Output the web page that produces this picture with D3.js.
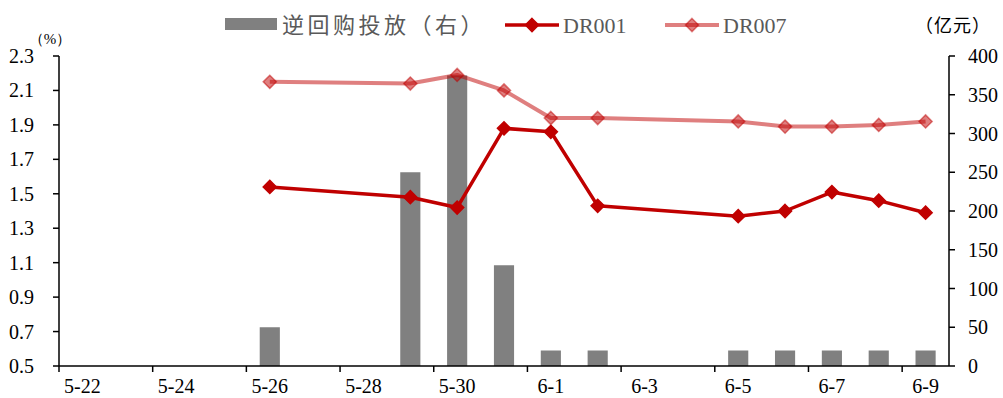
<!DOCTYPE html>
<html>
<head>
<meta charset="utf-8">
<script src="https://cdn.jsdelivr.net/npm/d3@7"></script>
<style>
  html, body { margin: 0; padding: 0; background: #fff; }
  svg { display: block; }
</style>
</head>
<body>
<svg id="chart" width="1003" height="398"></svg>
<script>
// Trading days shown on the category axis
const dates = ["5-22","5-23","5-24","5-25","5-26","5-27","5-28","5-29","5-30","5-31",
               "6-1","6-2","6-3","6-4","6-5","6-6","6-7","6-8","6-9"];
// Reverse repo injection (100 million yuan), right axis
const repo = [null,null,null,null,50,null,null,250,375,130,20,20,null,null,20,20,20,20,20];
// Interbank repo rates (%), left axis
const dr001 = [null,null,null,null,1.54,null,null,1.48,1.42,1.88,1.86,1.43,null,null,1.37,1.40,1.51,1.46,1.39];
const dr007 = [null,null,null,null,2.15,null,null,2.14,2.19,2.10,1.94,1.94,null,null,1.92,1.89,1.89,1.90,1.92];
const leftTicks = [0.5,0.7,0.9,1.1,1.3,1.5,1.7,1.9,2.1,2.3];
const rightTicks = [0,50,100,150,200,250,300,350,400];
const labeledDates = dates.filter((d, i) => i % 2 === 0);

const svg = d3.select("#chart");
const plot = { left: 59, right: 949, top: 56, bottom: 366 };
const serif = "'Liberation Serif', 'Times New Roman', serif";
const cjk = "'Noto Sans CJK SC', sans-serif";

const x = d3.scaleBand().domain(dates).range([plot.left, plot.right]).paddingInner(0).paddingOuter(0);
const yL = d3.scaleLinear().domain([0.5, 2.3]).range([plot.bottom, plot.top]);
const yR = d3.scaleLinear().domain([0, 400]).range([plot.bottom, plot.top]);

// Bars: reverse repo injection
const barW = x.bandwidth() * 0.43;
svg.append("g").selectAll("rect")
  .data(dates.map((d, i) => ({ d, v: repo[i] })).filter(p => p.v != null))
  .join("rect")
  .attr("x", p => x(p.d) + x.bandwidth() / 2 - barW / 2)
  .attr("y", p => yR(p.v))
  .attr("width", barW)
  .attr("height", p => yR(0) - yR(p.v))
  .attr("fill", "#808080");

// Rate lines with diamond markers
const diamond = d3.symbol().type(d3.symbolDiamond2).size(110);
function drawSeries(values, color, opacity, width) {
  const pts = dates.map((d, i) => ({ d, v: values[i] })).filter(p => p.v != null);
  const line = d3.line().x(p => x(p.d) + x.bandwidth() / 2).y(p => yL(p.v));
  const g = svg.append("g");
  g.append("path").datum(pts)
    .attr("d", line).attr("fill", "none")
    .attr("stroke", color).attr("stroke-width", width)
    .attr("stroke-opacity", opacity).attr("stroke-linejoin", "round");
  g.selectAll("path.m").data(pts).join("path").attr("class", "m")
    .attr("d", diamond)
    .attr("transform", p => `translate(${x(p.d) + x.bandwidth() / 2},${yL(p.v)})`)
    .attr("fill", color).attr("fill-opacity", opacity)
    .attr("stroke", color).attr("stroke-opacity", opacity).attr("stroke-width", 1.5);
}
drawSeries(dr007, "#C00000", 0.5, 4);
drawSeries(dr001, "#C00000", 1, 3.5);

// Axes
const axisColor = "#000";
// left
const gl = svg.append("g");
gl.append("line").attr("x1", plot.left).attr("x2", plot.left)
  .attr("y1", plot.top).attr("y2", plot.bottom).attr("stroke", axisColor).attr("stroke-width", 1.5);
gl.selectAll("line.t").data(leftTicks).join("line").attr("class", "t")
  .attr("x1", plot.left - 6).attr("x2", plot.left)
  .attr("y1", d => yL(d)).attr("y2", d => yL(d))
  .attr("stroke", axisColor).attr("stroke-width", 1.5);
gl.selectAll("text").data(leftTicks).join("text")
  .attr("x", 34).attr("y", d => yL(d)).attr("dy", "0.35em")
  .attr("text-anchor", "end").attr("font-family", serif).attr("font-size", 20).attr("fill", "#000")
  .text(d => d.toFixed(1));

// right
const gr = svg.append("g");
gr.append("line").attr("x1", plot.right).attr("x2", plot.right)
  .attr("y1", plot.top).attr("y2", plot.bottom).attr("stroke", axisColor).attr("stroke-width", 1.5);
gr.selectAll("line.t").data(rightTicks).join("line").attr("class", "t")
  .attr("x1", plot.right).attr("x2", plot.right + 6)
  .attr("y1", d => yR(d)).attr("y2", d => yR(d))
  .attr("stroke", axisColor).attr("stroke-width", 1.5);
gr.selectAll("text").data(rightTicks).join("text")
  .attr("x", 968).attr("y", d => yR(d)).attr("dy", "0.35em")
  .attr("text-anchor", "start").attr("font-family", serif).attr("font-size", 20).attr("fill", "#000")
  .text(d => d);

// bottom
const gb = svg.append("g");
gb.append("line").attr("x1", plot.left).attr("x2", plot.right)
  .attr("y1", plot.bottom).attr("y2", plot.bottom).attr("stroke", axisColor).attr("stroke-width", 1.5);
gb.selectAll("line.t").data(labeledDates).join("line").attr("class", "t")
  .attr("x1", d => x(d)).attr("x2", d => x(d))
  .attr("y1", plot.bottom).attr("y2", plot.bottom + 6)
  .attr("stroke", axisColor).attr("stroke-width", 1.5);
gb.selectAll("text").data(labeledDates).join("text")
  .attr("x", d => x(d) + x.bandwidth() / 2).attr("y", 393)
  .attr("text-anchor", "middle").attr("font-family", serif).attr("font-size", 20).attr("fill", "#000")
  .text(d => d);

// Unit labels
svg.append("text").attr("x", 50).attr("y", 44).attr("text-anchor", "middle")
  .attr("font-family", serif).attr("font-size", 15).attr("fill", "#000").text("（%）");
svg.append("text").attr("x", 953).attr("y", 32).attr("text-anchor", "middle")
  .attr("font-family", cjk).attr("font-size", 18).attr("letter-spacing", 1).attr("fill", "#000").text("（亿元）");

// Legend
const lg = svg.append("g");
lg.append("rect").attr("x", 225).attr("y", 18).attr("width", 52).attr("height", 12).attr("fill", "#808080");
lg.append("text").attr("x", 282).attr("y", 25).attr("dy", "0.35em")
  .attr("font-family", cjk).attr("font-size", 22).attr("letter-spacing", 3.5)
  .attr("fill", "#595959").text("逆回购投放（右）");

function legendLine(x0, x1, color, opacity, width, label) {
  lg.append("line").attr("x1", x0).attr("x2", x1).attr("y1", 25).attr("y2", 25)
    .attr("stroke", color).attr("stroke-opacity", opacity).attr("stroke-width", width);
  lg.append("path").attr("d", diamond)
    .attr("transform", `translate(${(x0 + x1) / 2},25)`)
    .attr("fill", color).attr("fill-opacity", opacity)
    .attr("stroke", color).attr("stroke-opacity", opacity).attr("stroke-width", 1.5);
  lg.append("text").attr("x", x1 + 4).attr("y", 25).attr("dy", "0.35em")
    .attr("font-family", serif).attr("font-size", 22).attr("fill", "#595959").text(label);
}
legendLine(505, 559, "#C00000", 1, 3.5, "DR001");
legendLine(665, 719, "#C00000", 0.5, 4, "DR007");
</script>
</body>
</html>
